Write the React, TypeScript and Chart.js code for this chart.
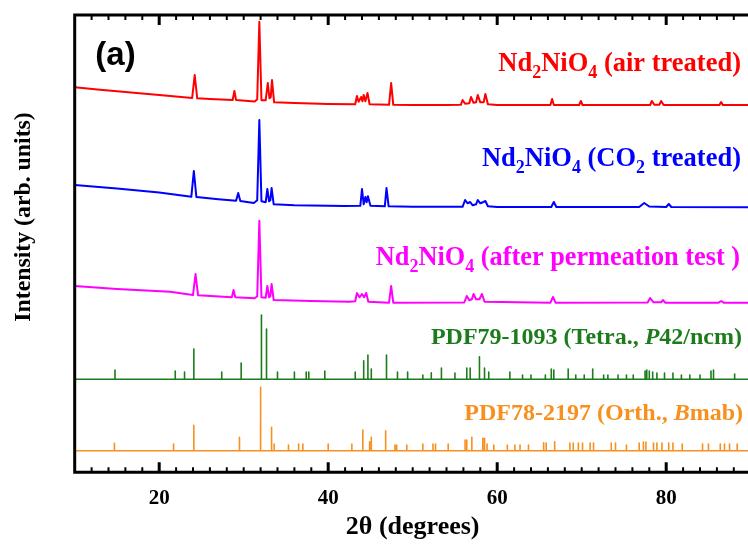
import React, { useEffect, useRef } from 'react';
import { Chart, registerables } from 'chart.js';

Chart.register(...registerables);

// ---------- data ----------
const X_MIN = 10;
const X_MAX = 90;
const xTickLabels = [20, 40, 60, 80];

// [2θ, intensity (arb.)]
const airTreated: [number, number][] = [
  [10, 385], [13, 382.5], [16, 380.3], [20, 377.3], [23.9, 374.3], [24.2, 397.3], [24.5, 374], [26, 373.3],
  [28.7, 372.3], [28.9, 381.3], [29.1, 372.2], [31.3, 370.8], [31.6, 373], [31.85, 450.6], [32.1, 372],
  [32.6, 372], [32.85, 389.3], [33.05, 374], [33.2, 375], [33.35, 392.3], [33.6, 370], [36, 369.3], [40, 368.3],
  [43.2, 368], [43.4, 376.3], [43.6, 370.5], [43.9, 375.3], [44.05, 371], [44.2, 377.3], [44.4, 371],
  [44.65, 379.3], [44.9, 368], [47.2, 367.5], [47.45, 389.3], [47.7, 367.5], [50, 367.3], [54, 367.3],
  [55.7, 367.5], [55.9, 372.3], [56.2, 368.5], [56.7, 369], [56.9, 375.3], [57.2, 369.5], [57.5, 370],
  [57.7, 377.3], [58.0, 370], [58.4, 370], [58.6, 378.3], [58.9, 368], [60, 367.3], [66.3, 367.3],
  [66.5, 373.3], [66.7, 367.3], [69.7, 367.3], [69.9, 371.3], [70.1, 367.3], [78.1, 367.3], [78.3, 371.3],
  [78.6, 367.5], [79.2, 367.6], [79.4, 371.3], [79.7, 367.3], [86.3, 367.3], [86.5, 370.3], [86.7, 367.3],
  [90, 367.3],
];

const co2Treated: [number, number][] = [
  [10, 287.3], [15, 283.8], [20, 279.8], [23.8, 275.5], [24.1, 301.3], [24.4, 275.3], [27, 273], [29.1, 271.5],
  [29.35, 279.3], [29.6, 271.2], [31.2, 269.3], [31.6, 272], [31.85, 352.3], [32.1, 271], [32.6, 270],
  [32.8, 283.3], [33.0, 271], [33.15, 272], [33.3, 284.3], [33.55, 268], [36, 267], [42, 266.3],
  [43.8, 266.5], [44.0, 283.3], [44.2, 268], [44.4, 275.3], [44.55, 270], [44.7, 276], [45.0, 266.5],
  [46.7, 266], [46.9, 284.3], [47.15, 266], [50, 265.6], [55.9, 265.5], [56.2, 272.3], [56.5, 269],
  [56.8, 270.3], [57.1, 267], [57.5, 268], [57.7, 272.3], [58.0, 269], [58.3, 270], [58.6, 271.3],
  [58.9, 266], [60, 265.3], [66.4, 265.3], [66.7, 270.3], [67.0, 265.3], [76.8, 265.3], [77.4, 269.3],
  [78.0, 265.8], [80.0, 265.3], [80.3, 268.3], [80.6, 265.3], [90, 265],
];

const afterPermeation: [number, number][] = [
  [10, 186.3], [15, 183.3], [21.3, 180.6], [24.0, 177.3], [24.3, 198.3], [24.6, 177], [28.6, 175],
  [28.8, 182.3], [29.0, 175], [31.3, 174], [31.6, 176], [31.85, 251.6], [32.1, 175], [32.6, 174.5],
  [32.8, 186.3], [33.0, 175], [33.15, 176], [33.3, 188.3], [33.55, 172.3], [38, 171.3], [42.5, 170.6],
  [43.2, 171], [43.4, 179.3], [43.7, 175], [44.0, 178.3], [44.25, 175], [44.5, 179.3], [44.75, 170.5],
  [47.2, 169.6], [47.45, 186.3], [47.7, 169.6], [56.1, 169.8], [56.4, 176.3], [56.7, 172], [57.0, 173],
  [57.2, 178.3], [57.5, 173], [57.9, 173], [58.2, 178.3], [58.5, 170.5], [66.3, 169.6], [66.6, 175.3],
  [66.9, 169.6], [77.8, 169.8], [78.1, 174.3], [78.5, 170], [79.4, 170], [79.6, 172.3], [79.9, 169.6],
  [86.2, 169.6], [86.5, 171.3], [86.8, 169.6], [90, 169.6],
];

// reference patterns: baseline and [2θ, stick top]
const tetraBaseline = 93;
const tetraSticks: [number, number][] = [
  [14.77, 102.3], [21.9, 101.3], [23.0, 100.3], [24.1, 123.3], [27.4, 100.3], [29.7, 109.3], [32.1, 157.3],
  [32.7, 143.3], [34.0, 100.3], [36.0, 100.3], [37.4, 100.3], [37.7, 100.3], [39.6, 101.3], [43.2, 100.3],
  [44.2, 111.6], [44.7, 117.3], [45.1, 103.3], [46.9, 117.3], [48.2, 100.3], [49.4, 100.3], [51.2, 97.3],
  [52.2, 99.6], [53.4, 104.3], [55.0, 99.3], [56.4, 104.3], [56.8, 104.3], [57.9, 115.6], [58.5, 104.3],
  [59.0, 100.3], [61.5, 100.3], [63.0, 97.3], [64.0, 97.3], [65.7, 97.3], [66.4, 103.3], [66.7, 102.3],
  [68.4, 103.3], [69.3, 97.3], [70.3, 97.3], [71.3, 103.3], [72.6, 97.3], [73.1, 97.3], [74.3, 97.3],
  [75.3, 97.3], [76.1, 97.3], [77.5, 101.3], [77.7, 102.3], [78.0, 101.3], [78.4, 100.3], [78.9, 99.3],
  [79.8, 99.3], [80.8, 99.3], [81.8, 97.3], [82.8, 97.3], [84.0, 97.3], [85.3, 101.3], [85.6, 102.3],
  [88.1, 98.3],
];

const orthBaseline = 21.6;
const orthSticks: [number, number][] = [
  [14.7, 29], [21.7, 28.3], [24.1, 47], [29.5, 35], [32.0, 85], [33.3, 45], [33.6, 28.3], [35.3, 27.3],
  [36.5, 28.3], [37.0, 28.3], [40.0, 28.3], [42.8, 28.3], [44.1, 42.3], [44.9, 30.6], [45.1, 35],
  [46.8, 41.6], [47.9, 27.3], [48.1, 27.3], [49.3, 27.3], [51.2, 28.3], [52.4, 28.3], [52.7, 28.3],
  [54.2, 28.3], [56.2, 32.3], [56.4, 32.3], [57.0, 35], [58.3, 34], [58.5, 34], [58.8, 28.3], [59.6, 27.3],
  [61.2, 27.3], [62.1, 27.3], [62.7, 27.3], [63.7, 27.3], [65.5, 29.6], [65.8, 29.3], [66.8, 30.6],
  [68.6, 29.3], [69.0, 29.3], [69.6, 29.3], [70.1, 29.3], [71.0, 29.3], [71.4, 29.3], [73.5, 29.3],
  [74.0, 29.3], [75.3, 27.3], [76.8, 29.3], [77.3, 30.3], [77.6, 30.3], [78.5, 29.3], [78.9, 29.3],
  [79.5, 29.3], [80.3, 29.3], [80.8, 29.3], [81.9, 28.3], [84.3, 28.3], [85.0, 28.3], [86.4, 28.3],
  [86.9, 28.3], [87.5, 28.3], [88.4, 28.3],
];

type Part = { t: string; sub?: boolean; italic?: boolean };
const labelAir: Part[] = [{ t: 'Nd' }, { t: '2', sub: true }, { t: 'NiO' }, { t: '4', sub: true }, { t: ' (air treated)' }];
const labelCO2: Part[] = [{ t: 'Nd' }, { t: '2', sub: true }, { t: 'NiO' }, { t: '4', sub: true }, { t: ' (CO' }, { t: '2', sub: true }, { t: ' treated)' }];
const labelPerm: Part[] = [{ t: 'Nd' }, { t: '2', sub: true }, { t: 'NiO' }, { t: '4', sub: true }, { t: ' (after permeation test )' }];
const labelTetra: Part[] = [{ t: 'PDF79-1093 (Tetra., ' }, { t: 'P', italic: true }, { t: '42/ncm)' }];
const labelOrth: Part[] = [{ t: 'PDF78-2197 (Orth., ' }, { t: 'B', italic: true }, { t: 'mab)' }];

const xTitle = '2θ (degrees)';
const yTitle = 'Intensity (arb. units)';
const panelTag = '(a)';

// ---------- style ----------
const RED = '#ff0000';
const BLUE = '#0000ff';
const MAGENTA = '#ff00ff';
const GREEN = '#1c7c1c';
const ORANGE = '#f7901e';
const SERIF = '"Liberation Serif", "Times New Roman", serif';

const toPts = (arr: [number, number][]) => arr.map(([x, y]) => ({ x, y }));
const stickPts = (base: number, sticks: [number, number][]) => {
  const pts: { x: number; y: number }[] = [{ x: X_MIN, y: base }];
  for (const [x, top] of sticks) pts.push({ x, y: base }, { x, y: top }, { x, y: base });
  pts.push({ x: X_MAX, y: base });
  return pts;
};

function drawRich(ctx: CanvasRenderingContext2D, parts: Part[], rightX: number, baseline: number, color: string, size: number) {
  const fontFor = (p: Part) =>
    p.sub ? `bold ${Math.round(size * 0.68)}px ${SERIF}` : p.italic ? `italic bold ${size}px ${SERIF}` : `bold ${size}px ${SERIF}`;
  let total = 0;
  const widths = parts.map((p) => {
    ctx.font = fontFor(p);
    const w = ctx.measureText(p.t).width;
    total += w;
    return w;
  });
  let x = rightX - total;
  ctx.fillStyle = color;
  ctx.textAlign = 'left';
  ctx.textBaseline = 'alphabetic';
  parts.forEach((p, i) => {
    ctx.font = fontFor(p);
    ctx.fillText(p.t, x, baseline + (p.sub ? size * 0.26 : 0));
    x += widths[i];
  });
}

const decorPlugin = {
  id: 'decor',
  afterDraw(chart: any) {
    const { ctx, chartArea } = chart;
    const { left, right, top, bottom } = chartArea;
    const xs = chart.scales.x;
    ctx.save();
    // frame
    ctx.strokeStyle = '#000';
    ctx.lineWidth = 3;
    ctx.beginPath();
    ctx.moveTo(left, top);
    ctx.lineTo(right, top);
    ctx.lineTo(right, bottom);
    ctx.lineTo(left, bottom);
    ctx.closePath();
    ctx.stroke();
    // inward ticks
    for (const t of xs.ticks) {
      const v = t.value;
      if (v <= X_MIN || v >= X_MAX) continue;
      const major = v % 20 === 0;
      const len = major ? 10 : 5;
      const px = xs.getPixelForValue(v);
      ctx.lineWidth = major ? 3 : 2;
      ctx.beginPath();
      ctx.moveTo(px, bottom);
      ctx.lineTo(px, bottom - len);
      ctx.moveTo(px, top);
      ctx.lineTo(px, top + len);
      ctx.stroke();
    }
    // series labels
    drawRich(ctx, labelAir, 741, 71, RED, 26.5);
    drawRich(ctx, labelCO2, 741, 166, BLUE, 26.5);
    drawRich(ctx, labelPerm, 740, 265, MAGENTA, 26.3);
    drawRich(ctx, labelTetra, 742, 343.5, GREEN, 24);
    drawRich(ctx, labelOrth, 743, 419.5, ORANGE, 24);
    // panel tag
    ctx.fillStyle = '#000';
    ctx.font = `bold 33px "Liberation Sans", Arial, sans-serif`;
    ctx.textAlign = 'center';
    ctx.textBaseline = 'middle';
    ctx.fillText(panelTag, 115.5, 56);
    // y title
    ctx.translate(24, 217);
    ctx.rotate(-Math.PI / 2);
    ctx.font = `bold 23.8px ${SERIF}`;
    ctx.fillText(yTitle, 0, 0);
    ctx.restore();
  },
};

export default function App() {
  const ref = useRef<HTMLCanvasElement>(null);
  useEffect(() => {
    if (!ref.current) return;
    const lineDs = (label: string, data: any, color: string, width: number) => ({
      label,
      data,
      borderColor: color,
      backgroundColor: color,
      borderWidth: width,
      pointRadius: 0,
      tension: 0,
      fill: false,
      borderJoinStyle: 'round' as const,
      parsing: false as const,
    });
    const chart = new Chart(ref.current, {
      type: 'line',
      data: {
        datasets: [
          lineDs('air', toPts(airTreated), RED, 2),
          lineDs('co2', toPts(co2Treated), BLUE, 2),
          lineDs('perm', toPts(afterPermeation), MAGENTA, 2),
          lineDs('tetra', stickPts(tetraBaseline, tetraSticks), GREEN, 1.6),
          lineDs('orth', stickPts(orthBaseline, orthSticks), ORANGE, 1.6),
        ],
      },
      options: {
        responsive: false,
        animation: false,
        devicePixelRatio: 1,
        layout: { padding: { left: 74.7, top: 15, right: 9.3, bottom: 0 } },
        plugins: { legend: { display: false }, tooltip: { enabled: false } },
        scales: {
          x: {
            type: 'linear',
            min: X_MIN,
            max: X_MAX,
            grid: { display: false, drawTicks: false },
            border: { display: false },
            ticks: {
              stepSize: 2,
              autoSkip: false,
              maxRotation: 0,
              padding: 14,
              color: '#000',
              font: { family: SERIF, size: 21, weight: 'bold' },
              callback: (v: any) => (xTickLabels.includes(Number(v)) ? String(v) : ''),
            },
            title: {
              display: true,
              text: xTitle,
              color: '#000',
              font: { family: SERIF, size: 26, weight: 'bold' },
              padding: { top: 0, bottom: 4 },
            },
            afterFit: (s: any) => {
              s.height = 74.7;
              s.paddingLeft = 0;
              s.paddingRight = 0;
            },
          },
          y: { type: 'linear', min: 0, max: 457.3, display: false },
        },
      },
      plugins: [decorPlugin],
    });
    return () => chart.destroy();
  }, []);
  return (
    <div style={{ position: 'fixed', left: 0, top: 0, width: 748, height: 547, overflow: 'hidden', background: '#fff' }}>
      <canvas ref={ref} width={760} height={547} style={{ display: 'block', width: 760, height: 547 }} />
    </div>
  );
}
